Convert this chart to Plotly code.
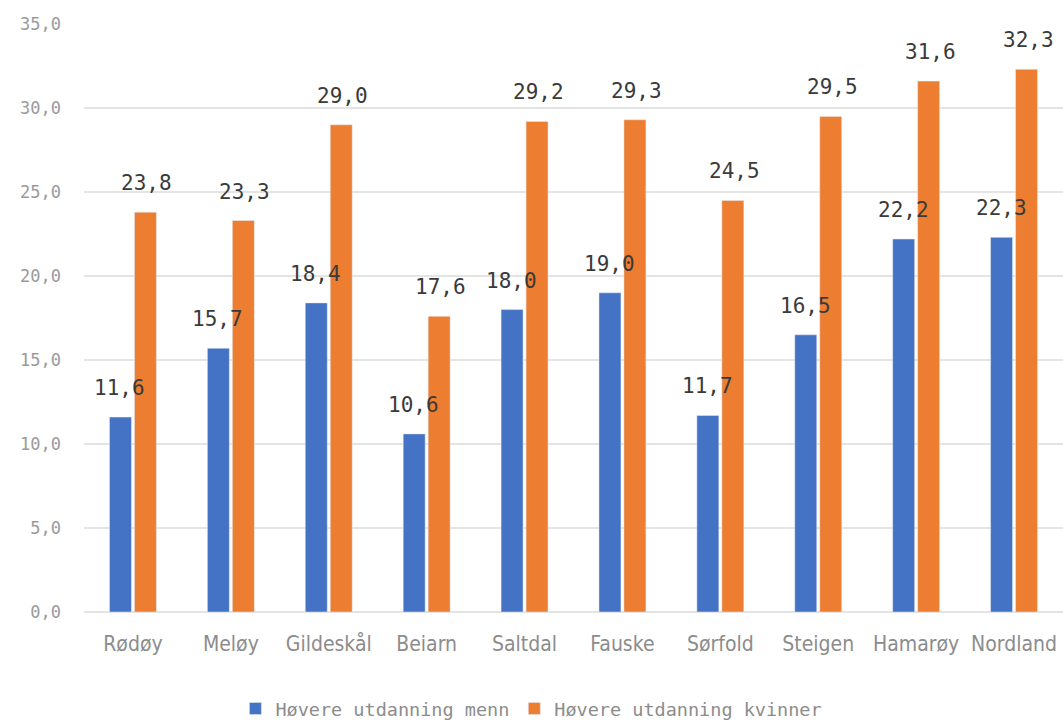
import plotly.graph_objects as go

categories = ["Rødøy", "Meløy", "Gildeskål", "Beiarn", "Saltdal", "Fauske", "Sørfold", "Steigen", "Hamarøy", "Nordland"]
menn = [11.6, 15.7, 18.4, 10.6, 18.0, 19.0, 11.7, 16.5, 22.2, 22.3]
kvinner = [23.8, 23.3, 29.0, 17.6, 29.2, 29.3, 24.5, 29.5, 31.6, 32.3]
y_ticks = [0, 5, 10, 15, 20, 25, 30, 35]

BLUE = "#4472C4"
ORANGE = "#ED7D31"
MONO = "DejaVu Sans Mono"

fig = go.Figure()
fig.add_trace(go.Bar(x=categories, y=menn, name="Høvere utdanning menn", marker_color=BLUE))
fig.add_trace(go.Bar(x=categories, y=kvinner, name="Høvere utdanning kvinner", marker_color=ORANGE))

annotations = []
for series, shift in ((menn, -13), (kvinner, 14)):
    for c, v in zip(categories, series):
        annotations.append(dict(
            x=c, y=v, xref="x", yref="y", text=f"{v:.1f}".replace(".", ","),
            showarrow=False, xshift=shift, yshift=29, yanchor="middle",
            font=dict(family=MONO, size=21, color="#3A3A3A"),
        ))

fig.update_layout(
    width=1063, height=728,
    margin=dict(l=84, r=0, t=24, b=116),
    paper_bgcolor="white", plot_bgcolor="white",
    barmode="group", bargap=0.49, bargroupgap=0.12,
    separators=",.",
    font=dict(family=MONO, color="#8C8C8C", size=15),
    annotations=annotations,
    showlegend=True,
    legend=dict(orientation="h", x=0.457, xanchor="center", y=-0.011, yref="container",
                yanchor="bottom",
                font=dict(family=MONO, size=18.5, color="#8C8C8C"), tracegroupgap=0),
)
fig.update_yaxes(range=[0, 35], tickvals=y_ticks, tickformat=".1f", automargin=False,
                 showgrid=True, gridcolor="#E4E4E4", gridwidth=1.5,
                 zeroline=True, zerolinecolor="#E4E4E4", zerolinewidth=1.5,
                 ticklabelstandoff=22, tickfont=dict(family=MONO, size=17, color="#9A9A9A"),
                 showline=False)
fig.update_xaxes(showline=False, automargin=False,
                 tickfont=dict(family="DejaVu Sans Condensed", size=21, color="#8C8C8C"),
                 ticklabelstandoff=17)

fig.write_html("out.html", config={"displayModeBar": False},
               post_script="document.body.style.margin='0';document.body.style.overflow='hidden';")
